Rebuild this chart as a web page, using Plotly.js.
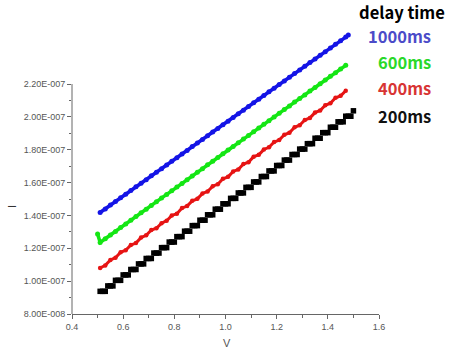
<!DOCTYPE html>
<html>
<head>
<meta charset="utf-8">
<script src="https://cdn.plot.ly/plotly-3.0.1.min.js"></script>
<style>
html,body{margin:0;padding:0;background:#fff;}
#chart{width:450px;height:360px;}
</style>
</head>
<body>
<div id="chart"></div>
<script>
// Current in nA (plotted), voltage in V
const blueX = [0.51,0.53,0.55,0.57,0.59,0.61,0.63,0.65,0.67,0.69,0.71,0.73,0.75,0.77,0.79,0.81,0.83,0.85,0.87,0.89,0.91,0.93,0.95,0.97,0.99,1.01,1.03,1.05,1.07,1.09,1.11,1.13,1.15,1.17,1.19,1.21,1.23,1.25,1.27,1.29,1.31,1.33,1.35,1.37,1.39,1.41,1.43,1.45,1.47,1.48];
const blueY = [141.8,144.0,146.3,148.5,150.7,152.9,155.2,157.4,159.6,161.8,164.1,166.3,168.5,170.7,173.0,175.2,177.4,179.6,181.9,184.1,186.3,188.5,190.8,193.0,195.2,197.4,199.7,201.9,204.1,206.4,208.6,210.8,213.0,215.3,217.5,219.7,221.9,224.2,226.4,228.6,230.8,233.1,235.3,237.5,239.7,242.0,244.2,246.4,248.6,249.8];

const greenX = [0.50,0.51,0.53,0.55,0.57,0.59,0.61,0.63,0.65,0.67,0.69,0.71,0.73,0.75,0.77,0.79,0.81,0.83,0.85,0.87,0.89,0.91,0.93,0.95,0.97,0.99,1.01,1.03,1.05,1.07,1.09,1.11,1.13,1.15,1.17,1.19,1.21,1.23,1.25,1.27,1.29,1.31,1.33,1.35,1.37,1.39,1.41,1.43,1.45,1.47];
const greenY = [128.7,123.6,125.8,128.1,130.3,132.6,134.8,137.1,139.3,141.6,143.8,146.1,148.3,150.6,152.8,155.0,157.3,159.5,161.8,164.0,166.3,168.5,170.8,173.0,175.3,177.5,179.8,182.0,184.2,186.5,188.7,191.0,193.2,195.5,197.7,200.0,202.2,204.5,206.7,209.0,211.2,213.4,215.7,217.9,220.2,222.4,224.7,226.9,229.2,231.4];

const redX = [0.51,0.53,0.55,0.57,0.59,0.61,0.63,0.65,0.67,0.69,0.71,0.73,0.75,0.77,0.79,0.81,0.83,0.85,0.87,0.89,0.91,0.93,0.95,0.97,0.99,1.01,1.03,1.05,1.07,1.09,1.11,1.13,1.15,1.17,1.19,1.21,1.23,1.25,1.27,1.29,1.31,1.33,1.35,1.37,1.39,1.41,1.43,1.45,1.47];
const redY = [108.0,109.6,112.9,114.3,117.6,118.8,122.0,123.2,126.5,127.9,131.1,132.2,135.3,136.8,140.0,141.1,144.5,145.7,148.9,150.1,153.4,154.6,157.8,159.0,162.3,163.5,166.8,168.0,171.3,172.4,175.8,176.9,180.2,181.5,184.7,185.9,189.1,190.4,193.7,194.9,198.1,199.4,202.6,203.9,207.1,208.3,211.6,212.8,215.9];

const blackX = [0.51,0.52,0.53,0.54,0.55,0.56,0.57,0.58,0.59,0.60,0.61,0.62,0.63,0.64,0.65,0.66,0.67,0.68,0.69,0.70,0.71,0.72,0.73,0.74,0.75,0.76,0.77,0.78,0.79,0.80,0.81,0.82,0.83,0.84,0.85,0.86,0.87,0.88,0.89,0.90,0.91,0.92,0.93,0.94,0.95,0.96,0.97,0.98,0.99,1.00,1.01,1.02,1.03,1.04,1.05,1.06,1.07,1.08,1.09,1.10,1.11,1.12,1.13,1.14,1.15,1.16,1.17,1.18,1.19,1.20,1.21,1.22,1.23,1.24,1.25,1.26,1.27,1.28,1.29,1.30,1.31,1.32,1.33,1.34,1.35,1.36,1.37,1.38,1.39,1.40,1.41,1.42,1.43,1.44,1.45,1.46,1.47,1.48,1.49,1.50];
const blackY = [93.8,93.8,93.8,97.1,97.1,97.1,100.5,100.5,100.5,103.8,103.8,103.8,107.1,107.1,107.1,110.5,110.5,110.5,113.8,113.8,113.8,117.1,117.1,117.1,120.4,120.4,120.4,123.8,123.8,123.8,127.1,127.1,127.1,130.4,130.4,130.4,133.8,133.8,133.8,137.1,137.1,137.1,140.4,140.4,140.4,143.8,143.8,143.8,147.1,147.1,147.1,150.4,150.4,150.4,153.7,153.7,153.7,157.1,157.1,157.1,160.4,160.4,160.4,163.7,163.7,163.7,167.1,167.1,167.1,170.4,170.4,170.4,173.7,173.7,173.7,177.1,177.1,177.1,180.4,180.4,180.4,183.7,183.7,183.7,187.0,187.0,187.0,190.4,190.4,190.4,193.7,193.7,193.7,197.0,197.0,197.0,200.4,200.4,200.4,203.7];

const xTickVals = [0.4,0.6,0.8,1.0,1.2,1.4,1.6];
const xTickText = ['0.4','0.6','0.8','1.0','1.2','1.4','1.6'];
const xMinorVals = [0.5,0.7,0.9,1.1,1.3,1.5];
const yTickVals = [80,100,120,140,160,180,200,220];
const yTickText = ['8.00E-008','1.00E-007','1.20E-007','1.40E-007','1.60E-007','1.80E-007','2.00E-007','2.20E-007'];
const yMinorVals = [90,110,130,150,170,190,210];

const legendTitle = 'delay time';
const seriesNames = ['1000ms','600ms','400ms','200ms'];
const legendColors = ['#4b4bc8','#2ad82a','#d83434','#111111'];

const traces = [
  {x: blueX, y: blueY, mode:'lines+markers', line:{color:'#1414e6', width:3.5}, marker:{color:'#1414e6', size:5}, cliponaxis:false, name:seriesNames[0]},
  {x: greenX, y: greenY, mode:'lines+markers', line:{color:'#14e614', width:3.5}, marker:{color:'#14e614', size:5}, cliponaxis:false, name:seriesNames[1]},
  {x: redX, y: redY, mode:'lines+markers', line:{color:'#e61414', width:3}, marker:{color:'#e61414', size:4.5}, cliponaxis:false, name:seriesNames[2]},
  {x: blackX, y: blackY, mode:'markers', marker:{color:'#000000', size:5.5, symbol:'square'}, cliponaxis:false, name:seriesNames[3]}
];

const tickFont = {family:'Liberation Sans, Arial, sans-serif', size:9, color:'#555'};
const legFont = (c) => ({family:'Noto Sans CJK SC, Noto Sans, sans-serif', size:16.5, color:c, weight:'bold'});

const layout = {
  width:450, height:360,
  margin:{l:72, r:71, t:30, b:46},
  paper_bgcolor:'#fff', plot_bgcolor:'#fff',
  showlegend:false,
  xaxis:{
    range:[0.4,1.6], showgrid:false, zeroline:false,
    showline:true, linecolor:'#666', linewidth:1,
    tickmode:'array', tickvals:xTickVals, ticktext:xTickText,
    ticks:'outside', ticklen:4, tickcolor:'#666', tickfont:tickFont,
    minor:{tickmode:'array', tickvals:xMinorVals, ticks:'outside', ticklen:2.5, tickcolor:'#666', showgrid:false}
  },
  yaxis:{
    range:[80,252.9], showgrid:false, zeroline:false, showline:false,
    tickmode:'array', tickvals:yTickVals, ticktext:yTickText,
    ticks:'outside', ticklen:4, tickcolor:'#666', tickfont:tickFont,
    minor:{tickmode:'array', tickvals:yMinorVals, ticks:'outside', ticklen:2.5, tickcolor:'#666', showgrid:false}
  },
  shapes:[
    {type:'line', xref:'paper', yref:'y', x0:0, x1:0, y0:80, y1:220, line:{color:'#666', width:1}}
  ],
  annotations:[]
};

// pixel-placed texts (converted to paper coords)
const W = 450 - 72 - 71, H = 360 - 30 - 46;
function px(xp){ return (xp - 72) / W; }
function py(yp){ return (360 - 46 - yp) / H; }
const legendY = [36, 61.5, 88, 115.5];
layout.annotations.push({text:legendTitle, xref:'paper', yref:'paper', x:px(401.5), y:py(12), xanchor:'center', yanchor:'middle', showarrow:false, borderpad:0, font:legFont('#000')});
seriesNames.forEach((n,i)=>{
  layout.annotations.push({text:n, xref:'paper', yref:'paper', x:px(432), y:py(legendY[i]), xanchor:'right', yanchor:'middle', showarrow:false, borderpad:0, font:legFont(legendColors[i])});
});
layout.annotations.push({text:'V', xref:'paper', yref:'paper', x:px(226.5), y:py(343), xanchor:'center', yanchor:'middle', showarrow:false, font:{family:'Liberation Sans, Arial, sans-serif', size:11, color:'#555'}});
layout.annotations.push({text:'I', xref:'paper', yref:'paper', x:px(12), y:py(207), xanchor:'center', yanchor:'middle', textangle:-90, showarrow:false, font:{family:'Liberation Sans, Arial, sans-serif', size:11, color:'#333'}});

Plotly.newPlot('chart', traces, layout, {staticPlot:true, displayModeBar:false});
</script>
</body>
</html>
